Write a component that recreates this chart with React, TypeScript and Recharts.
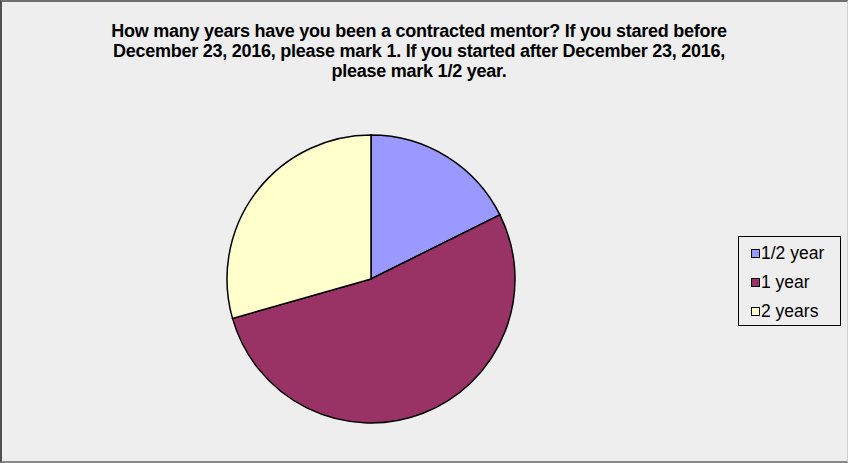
import React from 'react';
import { PieChart, Pie, Cell, Legend } from 'recharts';

const categories = ['1/2 year', '1 year', '2 years'];
const counts = [6, 18, 10];
const colors = ['#9999FF', '#993366', '#FFFFCC'];

const title = [
  'How many years have you been a contracted mentor? If you stared before',
  'December 23, 2016, please mark 1. If you started after December 23, 2016,',
  'please mark 1/2 year.',
];

const data = categories.map((name, i) => ({ name, value: counts[i] }));

// legend drawn as a plain box on the right, like the spreadsheet export
const LegendBox = () => (
  <div
    style={{
      position: 'absolute',
      left: 736,
      top: 234,
      width: 103,
      height: 90,
      boxSizing: 'border-box',
      border: '1px solid #000',
      background: '#EEEEEE',
      fontFamily: '"Liberation Sans", Arial, sans-serif',
      fontSize: 17.5,
      color: '#000',
    }}
  >
    {categories.map((c, i) => (
      <div
        key={c}
        style={{ position: 'absolute', left: 12, top: 6 + i * 29, height: 20, display: 'flex', alignItems: 'center', whiteSpace: 'nowrap' }}
      >
        <span
          style={{
            display: 'inline-block',
            width: 7,
            height: 7,
            border: '1px solid #000',
            background: colors[i],
            marginRight: 1,
          }}
        />
        <span>{c}</span>
      </div>
    ))}
  </div>
);

export default function App() {
  return (
    <div
      style={{
        position: 'absolute',
        left: 0,
        top: 0,
        width: 848,
        height: 463,
        boxSizing: 'border-box',
        background: '#EEEEEE',
        borderTop: '2px solid #707070',
        borderLeft: '2px solid #505050',
        borderBottom: '2px solid #888888',
        borderRight: '1px solid #d0d0d0',
      }}
    >
      <div
        style={{
          position: 'absolute',
          left: 0,
          top: 19,
          width: 834,
          textAlign: 'center',
          fontFamily: '"Liberation Sans", Arial, sans-serif',
          fontWeight: 'bold',
          fontSize: 18,
          lineHeight: '20px',
          color: '#000',
          letterSpacing: -0.25,
        }}
      >
        {title.map((t) => (
          <div key={t}>{t}</div>
        ))}
      </div>
      <div style={{ position: 'absolute', left: -2, top: -2 }}>
        <PieChart width={848} height={463}>
          <Pie
            data={data}
            dataKey="value"
            nameKey="name"
            cx={366}
            cy={274}
            outerRadius={144}
            startAngle={90}
            endAngle={-270}
            stroke="#000"
            strokeWidth={1.5}
            isAnimationActive={false}
          >
            {data.map((d, i) => (
              <Cell key={d.name} fill={colors[i]} />
            ))}
          </Pie>
          <Legend content={() => null} />
        </PieChart>
      </div>
      <LegendBox />
    </div>
  );
}
